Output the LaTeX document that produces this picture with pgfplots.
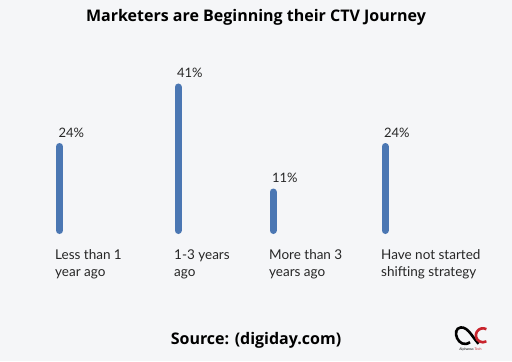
\documentclass[border=0pt]{standalone}
\usepackage{pgfplots}
\pgfplotsset{compat=1.18}
\usepackage{fontspec}
\setmainfont{Lato}
\newfontfamily\titlefont{Open Sans}
\definecolor{bg}{HTML}{F5F6F8}
\definecolor{barc}{HTML}{4B77B3}
\definecolor{logored}{HTML}{C8232C}
\tikzset{catlab/.style={anchor=north west, align=left, inner sep=0pt, font=\fontsize{13.5}{17}\selectfont, text=black!85}}
\begin{document}
\begin{tikzpicture}
\begin{axis}[
  scale only axis, width=512pt, height=361pt,
  xmin=0, xmax=512, ymin=-37.2857, ymax=65.857,
  hide axis, clip=false,
  /pgf/number format/assume math mode=true,
]
\fill[bg] (rel axis cs:0,0) rectangle (rel axis cs:1,1);
\addplot[ycomb, draw=barc, line width=7pt, line cap=round,
  nodes near coords={\pgfmathprintnumber[assume math mode=true]{\pgfplotspointmeta}\%},
  every node near coord/.style={anchor=base west, xshift=-4.5pt, yshift=9.5pt,
     font=\fontsize{13}{15}\selectfont, text=black!85, inner sep=0pt},
  point meta=explicit]
coordinates {(59.5,24)[24] (178,41)[41] (273,11)[11] (385,24)[24]};

\node[font=\titlefont\bfseries\fontsize{16}{19}\selectfont, anchor=center]
  at (rel axis cs:0.5,0.9529) {Marketers are Beginning their CTV Journey};

\node[catlab] at (axis cs:55,-5.3) {Less than 1\\year ago};
\node[catlab] at (axis cs:174,-5.3) {1-3 years\\ago};
\node[catlab] at (axis cs:269,-5.3) {More than 3\\years ago};
\node[catlab] at (axis cs:381,-5.3) {Have not started\\shifting strategy};

\node[font=\titlefont\bfseries\fontsize{16}{19}\selectfont, anchor=center]
  at (rel axis cs:0.5,0.058) {Source: (digiday.com)};
% logo
\draw[black, line width=2.6pt] (rel axis cs:0.918,0.052) .. controls (rel axis cs:0.895,0.03) and (rel axis cs:0.880,0.09) .. (rel axis cs:0.900,0.093)
  .. controls (rel axis cs:0.915,0.095) and (rel axis cs:0.925,0.06) .. (rel axis cs:0.935,0.048);
\draw[logored, line width=2.6pt] (rel axis cs:0.950,0.088) arc[start angle=60, end angle=300, radius=7pt];
\node[font=\fontsize{3.5}{4}\selectfont, anchor=center, inner sep=0pt] at (rel axis cs:0.919,0.032) {Alphanso \textcolor{logored}{Tech}};
\end{axis}
\end{tikzpicture}
\end{document}
